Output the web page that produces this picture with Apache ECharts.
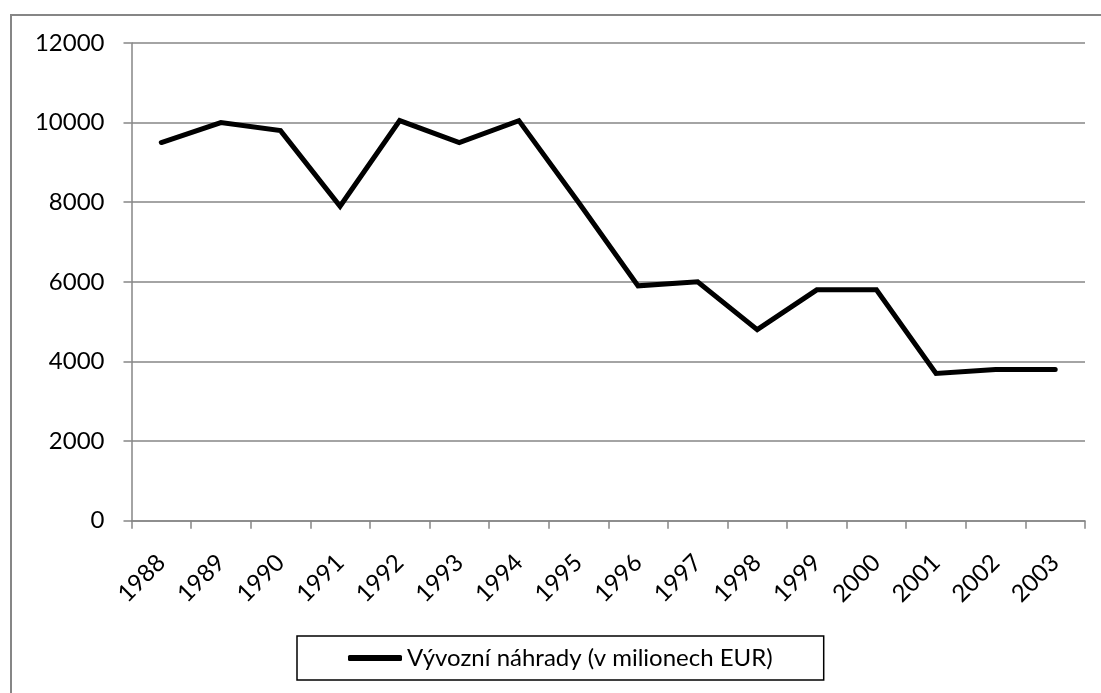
<!DOCTYPE html>
<html>
<head>
<meta charset="utf-8">
<style>
html,body{margin:0;padding:0;background:#fff;}
#chart{width:1101px;height:693px;}
</style>
<script src="https://cdn.jsdelivr.net/npm/echarts@6/dist/echarts.min.js"></script>
</head>
<body>
<div id="chart"></div>
<script>
const years = ['1988','1989','1990','1991','1992','1993','1994','1995','1996','1997','1998','1999','2000','2001','2002','2003'];
const exportRefunds = [9500,10000,9800,7900,10050,9500,10050,8000,5900,6000,4800,5800,5800,3700,3800,3800];
const seriesName = 'Vývozní náhrady (v milionech EUR)';
const yMin = 0, yMax = 12000, yStep = 2000;

const chart = echarts.init(document.getElementById('chart'), null, {renderer:'canvas'});
const font = 'Lato';
chart.setOption({
  animation:false,
  backgroundColor:'#fff',
  graphic:[{
    type:'rect', left:10, top:14, silent:true, z:-10,
    shape:{x:0,y:0,width:1200,height:800},
    style:{fill:'#fff', stroke:'#868686', lineWidth:2}
  }],
  grid:{left:131.5, right:16, top:43, bottom:172.3, containLabel:false},
  legend:{
    show:true,
    left:297, top:636,
    padding:[10,51,10,51],
    borderColor:'#000', borderWidth:1.5,
    itemWidth:54, itemHeight:6,
    icon:'roundRect',
    textStyle:{fontFamily:font, fontSize:24, color:'#000'},
    data:[{name:seriesName, icon:'roundRect', itemStyle:{color:'#000'}}]
  },
  xAxis:{
    type:'category', data:years, boundaryGap:true,
    axisLine:{show:true, lineStyle:{color:'#868686', width:1.5}},
    axisTick:{show:true, length:8, alignWithLabel:false, lineStyle:{color:'#868686', width:1.5}},
    axisLabel:{rotate:45, margin:38, fontFamily:font, fontSize:24, color:'#000', interval:0},
    splitLine:{show:false}
  },
  yAxis:{
    type:'value', min:yMin, max:yMax, interval:yStep,
    axisLine:{show:true, lineStyle:{color:'#868686', width:1.5}},
    axisTick:{show:true, length:8, lineStyle:{color:'#868686', width:1.5}},
    axisLabel:{margin:27, fontFamily:font, fontSize:24, color:'#000', formatter:function(v){return String(v);}},
    splitLine:{show:true, lineStyle:{color:'#868686', width:1.5}}
  },
  series:[{
    name:seriesName, type:'line', data:exportRefunds,
    symbol:'none', showSymbol:false,
    lineStyle:{color:'#000', width:5, cap:'round', join:'miter'},
    itemStyle:{color:'#000'}
  }]
});
</script>
</body>
</html>
